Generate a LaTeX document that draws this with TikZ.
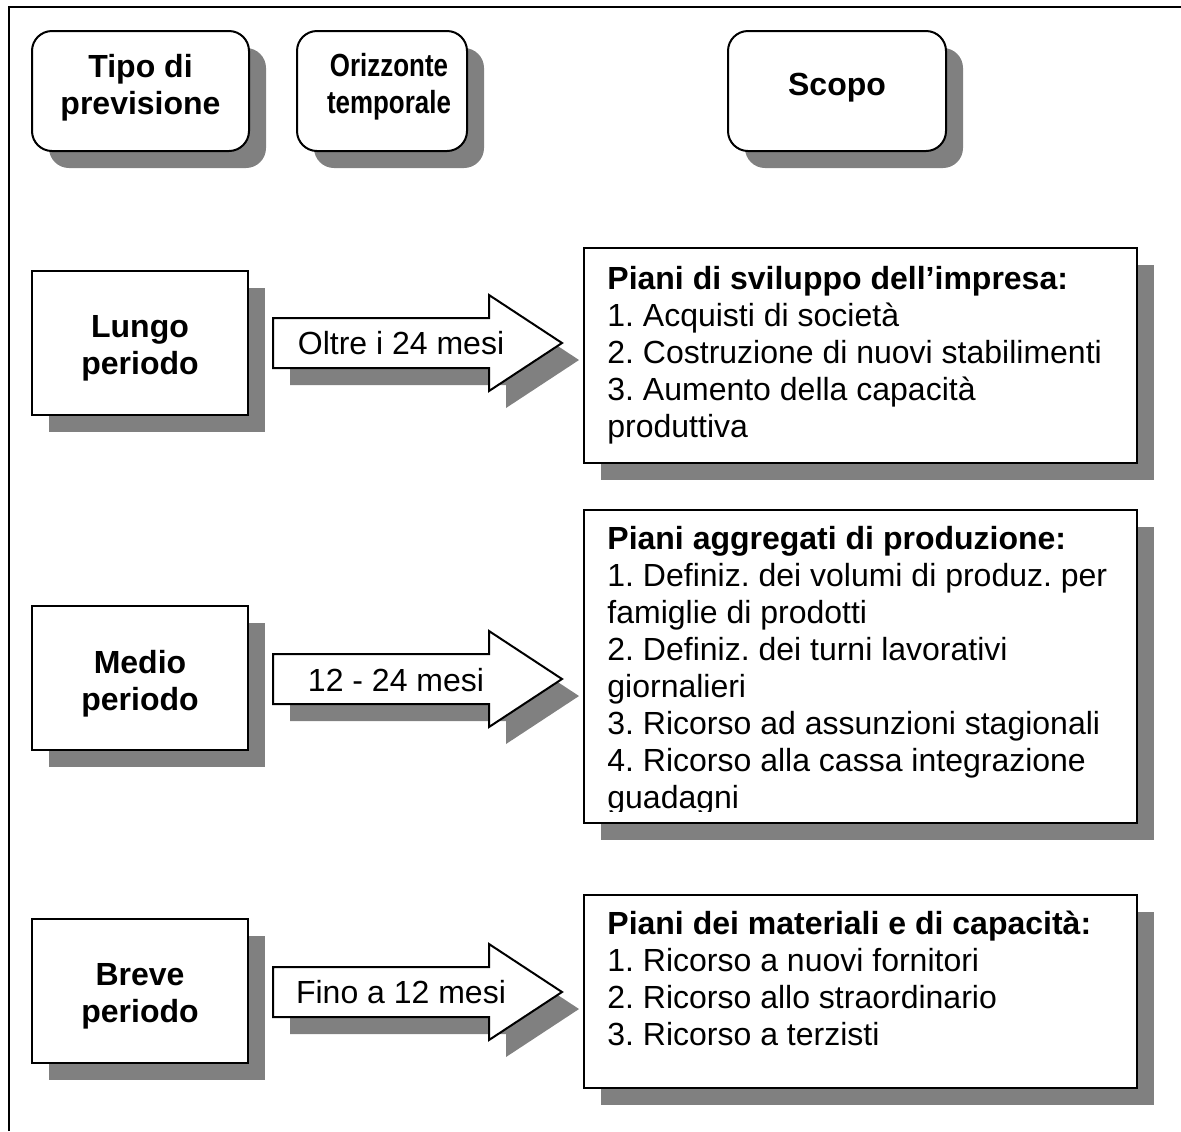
\documentclass[tikz,border=0pt]{standalone}
\usepackage{fontspec}
\usepackage{graphicx}
\setmainfont{Liberation Sans}
\usetikzlibrary{shadows}
\definecolor{shadowgray}{HTML}{808080}
\frenchspacing
\begin{document}
\begin{tikzpicture}[x=0.5pt,y=-0.5pt,
  outline/.style={draw=black,line width=1pt},
  shadowed/.style={drop shadow={shadow xshift=8.5pt,shadow yshift=-8.5pt,fill=shadowgray,opacity=1}},
  headbox/.style={rectangle,rounded corners=10pt,outline,fill=white,shadowed,inner sep=0pt,minimum height=60pt},
  rowbox/.style={rectangle,outline,fill=white,shadowed,inner sep=0pt,minimum width=108pt,minimum height=72pt},
  planbox/.style={rectangle,outline,fill=white,shadowed,inner sep=0pt,minimum width=276.5pt},
  headtxt/.style={font=\fontsize{16pt}{18.5pt}\selectfont\bfseries,align=center,inner sep=0pt},
  armtxt/.style={font=\fontsize{16pt}{18.5pt}\selectfont,inner sep=0pt},
  plantxt/.style={font=\fontsize{16pt}{18.5pt}\selectfont,align=left,anchor=north west,inner sep=0pt},
  timearrow/.pic={
    \fill[shadowgray,shift={(17,17)}] (273,-25) -- (489,-25) -- (489,-48) -- (562,0)
      -- (489,48) -- (489,25) -- (273,25) -- cycle;
    \draw[outline,fill=white,line join=miter] (273,-25) -- (489,-25) -- (489,-48) -- (562,0)
      -- (489,48) -- (489,25) -- (273,25) -- cycle;
  }]
\useasboundingbox (0,0) rectangle (1181,1131);

% frame lines along the top and left edges
\draw[line width=1pt] (8.5,1131) -- (8.5,7) -- (1181,7);

% column headers
\node[headbox,minimum width=108.5pt] (hTipo) at (140.5,91) {};
\node[headtxt] (tTipo) at (140.5,87.5) {Tipo di\\previsione};
\node[headbox,minimum width=85pt] (hOriz) at (382,91) {};
\node[headtxt] (tOriz) at (389,87.5)
  {\scalebox{0.81}[1]{\begin{tabular}{@{}c@{}}Orizzonte\\temporale\end{tabular}}};
\node[headbox,minimum width=109pt] (hScopo) at (837,91) {};
\node[headtxt] (tScopo) at (837,88) {Scopo};

% forecast type boxes
\node[rowbox] (lungo) at (140,342.5) {};
\node[headtxt] (tLungo) at (140,348) {Lungo\\periodo};
\node[rowbox] (medio) at (140,677.5) {};
\node[headtxt] (tMedio) at (140,684) {Medio\\periodo};
\node[rowbox] (breve) at (140,990.5) {};
\node[headtxt] (tBreve) at (140,996) {Breve\\periodo};

% time horizon arrows
\pic (arr1) at (0,343) {timearrow};
\node[armtxt] (tArr1) at (401,343) {Oltre i 24 mesi};
\pic (arr2) at (0,679) {timearrow};
\node[armtxt] (tArr2) at (396,680) {12 - 24 mesi};
\pic (arr3) at (0,992) {timearrow};
\node[armtxt] (tArr3) at (401,992) {Fino a 12 mesi};

% planning boxes
\node[planbox,minimum height=107.5pt] (plan1) at (860.5,355.5) {};
\node[plantxt] (tPlan1) at (607,266) {\textbf{Piani di sviluppo dell’impresa:}\\
1. Acquisti di società\\
2. Costruzione di nuovi stabilimenti\\
3. Aumento della capacità\\
produttiva};

\node[planbox,minimum height=156.5pt] (plan2) at (860.5,666.5) {};
\begin{scope}
\clip (584,510) rectangle (1137,811);
\node[plantxt] (tPlan2) at (607,526) {\textbf{Piani aggregati di produzione:}\\
1. Definiz. dei volumi di produz. per\\
famiglie di prodotti\\
2. Definiz. dei turni lavorativi\\
giornalieri\\
3. Ricorso ad assunzioni stagionali\\
4. Ricorso alla cassa integrazione\\
guadagni};
\end{scope}

\node[planbox,minimum height=96.5pt] (plan3) at (860.5,991.5) {};
\node[plantxt] (tPlan3) at (607,911) {\textbf{Piani dei materiali e di capacità:}\\
1. Ricorso a nuovi fornitori\\
2. Ricorso allo straordinario\\
3. Ricorso a terzisti};
\end{tikzpicture}
\end{document}
